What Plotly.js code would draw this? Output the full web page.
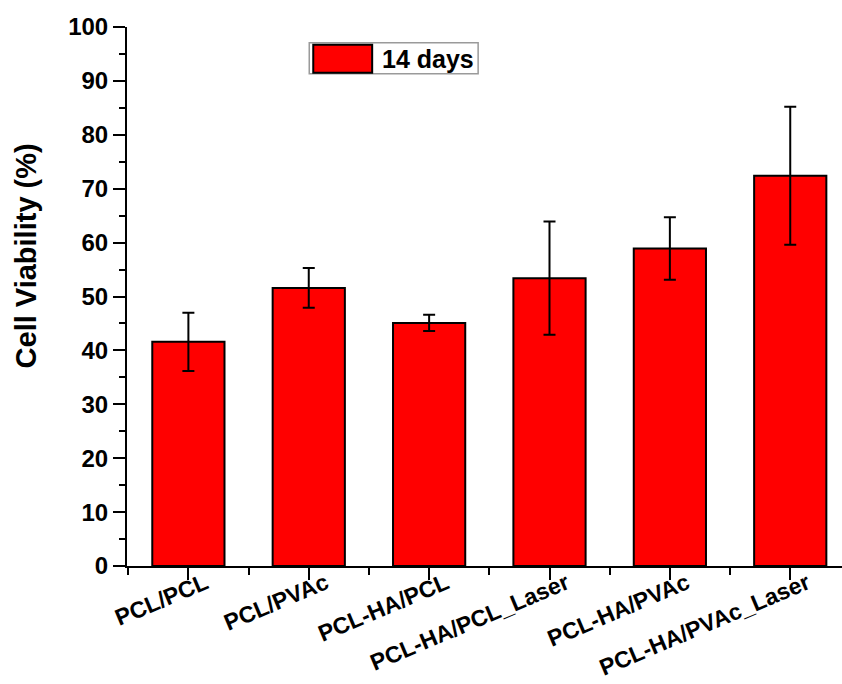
<!DOCTYPE html>
<html>
<head>
<meta charset="utf-8">
<script src="https://cdn.plot.ly/plotly-3.0.1.min.js"></script>
<style>
  html, body { margin: 0; padding: 0; background: #ffffff; }
  #chart { width: 842px; height: 684px; }
</style>
</head>
<body>
<div id="chart"></div>
<script>
// Data
const categories = ["PCL/PCL", "PCL/PVAc", "PCL-HA/PCL", "PCL-HA/PCL_Laser", "PCL-HA/PVAc", "PCL-HA/PVAc_Laser"];
const viability = [41.6, 51.6, 45.1, 53.4, 58.9, 72.4];
const viabilityErr = [5.4, 3.7, 1.5, 10.5, 5.8, 12.8];
const seriesName = "14 days";
const yTitle = "Cell Viability (%)";
const yTickValues = [0, 10, 20, 30, 40, 50, 60, 70, 80, 90, 100];

const positions = categories.map((c, i) => i);

const FONT = "Liberation Sans, Arial, sans-serif";

const trace = {
  type: "bar",
  name: seriesName,
  x: positions,
  y: viability,
  width: 0.6,
  marker: { color: "#ff0000", line: { color: "#000000", width: 2 } },
  error_y: { type: "data", array: viabilityErr, visible: true, color: "#000000", thickness: 2, width: 6 },
  showlegend: false,
  hoverinfo: "skip"
};

const layout = {
  width: 842,
  height: 684,
  margin: { l: 126.7, r: 0, t: 27.3, b: 118.3, pad: 0 },
  paper_bgcolor: "#ffffff",
  plot_bgcolor: "#ffffff",
  font: { family: FONT, color: "#000000" },
  showlegend: false,
  xaxis: {
    range: [-0.51, 5.43],
    tickmode: "array",
    tickvals: positions,
    ticktext: categories,
    tickangle: -23,
    ticklabelshift: 17,
    ticklabelstandoff: -19,
    ticks: "outside",
    ticklen: 12,
    tickwidth: 2,
    tickcolor: "#000000",
    tickfont: { family: FONT, size: 23, weight: "bold", color: "#000000" },
    minor: { tick0: 0.5, dtick: 1, ticks: "outside", ticklen: 7, tickwidth: 2, tickcolor: "#000000", showgrid: false },
    showline: true,
    linecolor: "#000000",
    linewidth: 2,
    showgrid: false,
    zeroline: false,
    automargin: false,
    fixedrange: true
  },
  yaxis: {
    range: [0, 100],
    tickmode: "array",
    tickvals: yTickValues,
    ticks: "outside",
    ticklen: 12,
    tickwidth: 2,
    tickcolor: "#000000",
    tickfont: { family: FONT, size: 24, weight: "bold", color: "#000000" },
    minor: { tick0: 5, dtick: 10, ticks: "outside", ticklen: 6, tickwidth: 2, tickcolor: "#000000", showgrid: false },
    showline: true,
    linecolor: "#000000",
    linewidth: 2,
    showgrid: false,
    zeroline: false,
    automargin: false,
    fixedrange: true
  },
  shapes: [
    { type: "rect", xref: "paper", yref: "paper", x0: 0.2549, x1: 0.4911, y0: 0.9133, y1: 0.9708,
      line: { color: "#9a9a9a", width: 1.5 }, fillcolor: "rgba(0,0,0,0)" },
    { type: "rect", xref: "paper", yref: "paper", x0: 0.2605, x1: 0.3429, y0: 0.9151, y1: 0.9671,
      line: { color: "#000000", width: 2 }, fillcolor: "#ff0000" }
  ],
  annotations: [
    { xref: "paper", yref: "paper", x: 0.3543, y: 0.9411, xanchor: "left", yanchor: "middle",
      text: seriesName, showarrow: false, font: { family: FONT, size: 25, weight: "bold", color: "#000000" } },
    { xref: "paper", yref: "paper", x: -0.1408, y: 0.575, xanchor: "center", yanchor: "middle",
      textangle: -90, text: yTitle, showarrow: false,
      font: { family: FONT, size: 29, weight: "bold", color: "#000000" } }
  ]
};

Plotly.newPlot("chart", [trace], layout, { staticPlot: true, displayModeBar: false });
</script>
</body>
</html>
